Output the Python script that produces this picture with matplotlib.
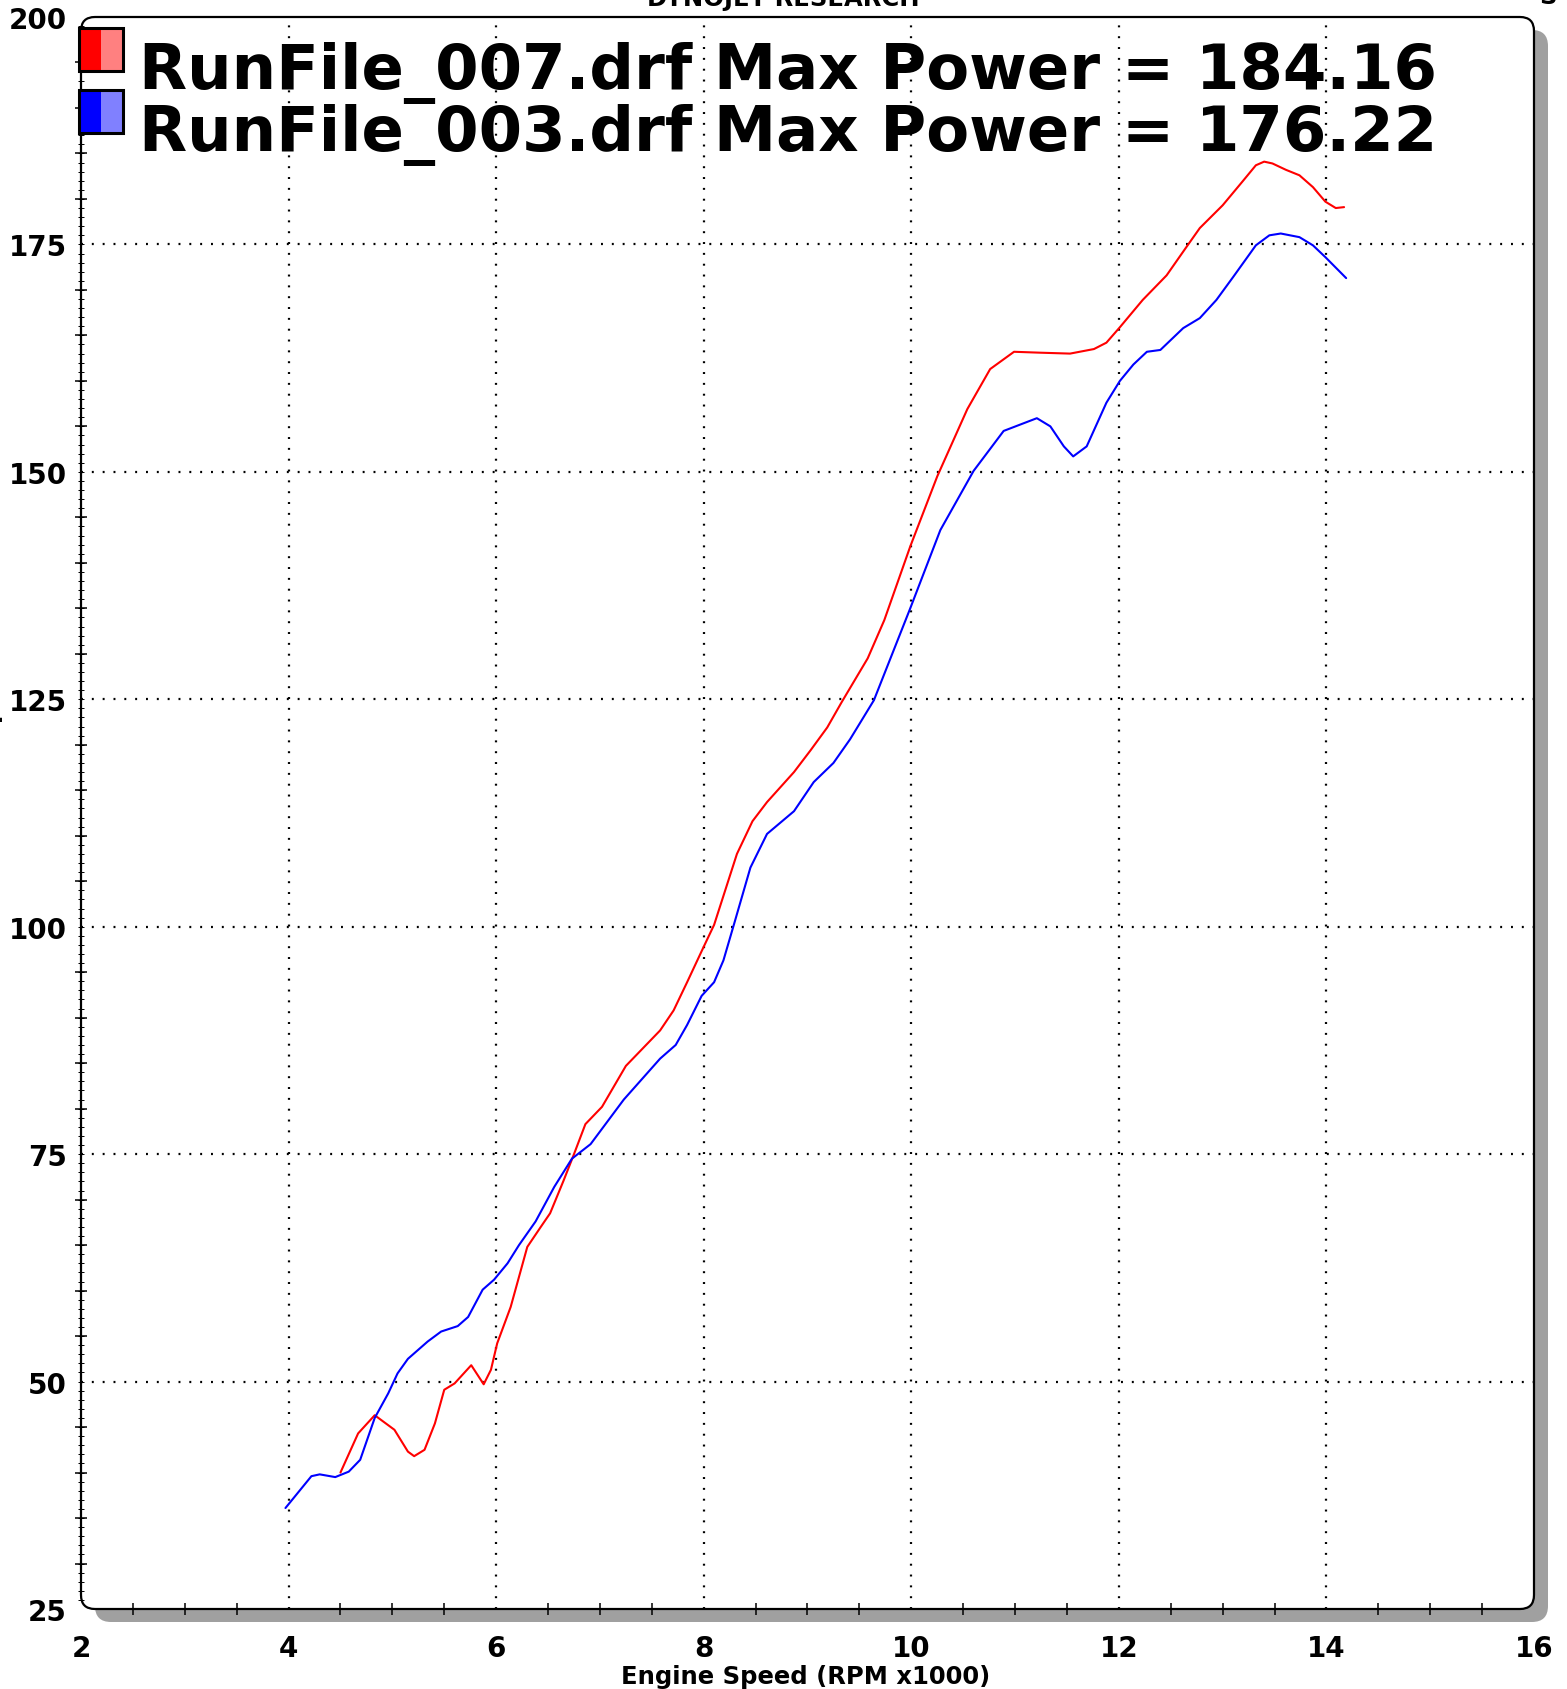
import numpy as np
import matplotlib
matplotlib.use("Agg")
from matplotlib import pyplot as plt
from matplotlib.patches import FancyBboxPatch, Rectangle
from matplotlib.transforms import IdentityTransform

# run 007 (red)
rpm_007 = [4.50, 4.67, 4.83, 5.02, 5.15, 5.21, 5.31, 5.41, 5.50, 5.60,
           5.76, 5.88, 5.95, 6.01, 6.14, 6.30, 6.43, 6.52, 6.65, 6.75,
           6.86, 7.02, 7.25, 7.58, 7.71, 7.84, 8.00, 8.10, 8.32, 8.47,
           8.61, 8.87, 9.03, 9.19, 9.33, 9.58, 9.74, 9.99, 10.25, 10.54,
           10.76, 10.99, 11.24, 11.53, 11.76, 11.88, 12.01, 12.23, 12.46, 12.65,
           12.78, 13.00, 13.19, 13.32, 13.40, 13.48, 13.61, 13.74, 13.87, 13.99,
           14.09, 14.17]
hp_007 = [40.0, 44.3, 46.3, 44.7, 42.3, 41.8, 42.5, 45.4, 49.1, 49.8,
          51.8, 49.7, 51.3, 54.2, 58.2, 64.8, 67.0, 68.5, 72.1, 75.0,
          78.3, 80.2, 84.7, 88.6, 90.8, 93.9, 97.8, 100.2, 108.0, 111.6,
          113.7, 117.0, 119.4, 121.9, 124.7, 129.5, 133.7, 141.8, 149.5, 156.9,
          161.3, 163.2, 163.1, 163.0, 163.5, 164.2, 165.9, 168.9, 171.6, 174.7,
          176.8, 179.3, 181.9, 183.7, 184.1, 183.9, 183.2, 182.6, 181.3, 179.7,
          179.0, 179.1]

# run 003 (blue)
rpm_003 = [3.97, 4.22, 4.30, 4.45, 4.58, 4.69, 4.83, 4.96, 5.05, 5.15,
           5.34, 5.47, 5.63, 5.73, 5.87, 5.98, 6.11, 6.22, 6.38, 6.56,
           6.73, 6.91, 7.23, 7.58, 7.73, 7.84, 7.98, 8.10, 8.19, 8.29,
           8.45, 8.61, 8.87, 9.06, 9.25, 9.41, 9.64, 9.99, 10.28, 10.60,
           10.89, 11.21, 11.34, 11.47, 11.56, 11.69, 11.88, 12.01, 12.14, 12.27,
           12.40, 12.62, 12.78, 12.94, 13.10, 13.32, 13.45, 13.56, 13.74, 13.87,
           13.99, 14.19]
hp_003 = [36.1, 39.6, 39.8, 39.5, 40.1, 41.4, 46.0, 48.7, 50.9, 52.5,
          54.4, 55.5, 56.1, 57.1, 60.1, 61.2, 63.0, 65.0, 67.6, 71.4,
          74.5, 76.1, 81.0, 85.5, 87.0, 89.2, 92.4, 93.9, 96.3, 100.2,
          106.5, 110.2, 112.7, 115.9, 118.0, 120.6, 124.9, 135.0, 143.6, 150.1,
          154.5, 155.9, 155.0, 152.8, 151.7, 152.8, 157.6, 160.0, 161.8, 163.2,
          163.4, 165.8, 166.9, 168.9, 171.4, 174.9, 176.0, 176.2, 175.8, 174.9,
          173.6, 171.3]

run_labels = ["RunFile_007.drf Max Power = 184.16",
              "RunFile_003.drf Max Power = 176.22"]
run_colors = [("#ff0000", "#ff8080"), ("#0000ff", "#8080ff")]

x_labels = [2, 4, 6, 8, 10, 12, 14, 16]
x_minor = np.arange(2.5, 16.0, 0.5)
x_grid = [4, 6, 8, 10, 12, 14]
y_labels = [25, 50, 75, 100, 125, 150, 175, 200]
y_minor = np.arange(30, 200, 5)
y_small = np.arange(26, 200, 1)
y_grid = [50, 75, 100, 125, 150, 175]

plt.rcParams["font.family"] = "DejaVu Sans"
plt.rcParams["font.weight"] = "bold"
plt.rcParams["lines.scale_dashes"] = False

W, H = 1567, 1690
fig = plt.figure(figsize=(W / 100, H / 100), dpi=100)

# axes box in pixels (from bottom left)
x0, y0, x1, y1 = 81, 80, 1534, 1672
ax = fig.add_axes([x0 / W, y0 / H, (x1 - x0) / W, (y1 - y0) / H])
ax.set_facecolor("none")
for side in ax.spines.values():
    side.set_visible(False)

ax.set_xlim(2, 16)
ax.set_ylim(25, 200)

# frame with rounded corners and grey drop shadow
shadow = FancyBboxPatch((x0 + 14, y0 - 13), x1 - x0, y1 - y0,
                        boxstyle="round,pad=0,rounding_size=16",
                        transform=IdentityTransform(), facecolor="#a0a0a0",
                        edgecolor="none", zorder=-2)
fill = FancyBboxPatch((x0, y0), x1 - x0, y1 - y0,
                      boxstyle="round,pad=0,rounding_size=14",
                      transform=IdentityTransform(), facecolor="white",
                      edgecolor="none", zorder=-1)
frame = FancyBboxPatch((x0, y0), x1 - x0, y1 - y0,
                       boxstyle="round,pad=0,rounding_size=14",
                       transform=IdentityTransform(), facecolor="none",
                       edgecolor="black", lw=1.6, zorder=3)
fig.add_artist(shadow)
fig.add_artist(fill)
fig.add_artist(frame)

# ticks
ax.set_xticks(x_labels)
ax.set_xticks(x_minor, minor=True)
ax.set_yticks(y_labels)
ax.set_yticks(y_minor, minor=True)
ax.tick_params(which="major", length=0, labelsize=20)
ax.tick_params(axis="x", which="major", pad=18)
ax.tick_params(axis="y", which="major", pad=10)
ax.tick_params(which="minor", length=9, width=1.1, direction="inout")

sec = ax.secondary_yaxis("left")
sec.set_yticks([])
sec.set_yticks(y_small, minor=True)
sec.tick_params(which="minor", length=4, width=0.7, direction="inout")
sec.spines["left"].set_visible(False)

# dotted grid
for v in y_grid:
    ax.axhline(v, color="black", lw=1.6, ls=(0, (1.4, 6.4)), zorder=1)
for r in x_grid:
    ax.axvline(r, color="black", lw=1.6, ls=(0, (1.4, 6.4)), zorder=1)

ax.plot(rpm_007, hp_007, color="#ff0000", lw=1.5, zorder=4,
        solid_joinstyle="round", solid_capstyle="round")
ax.plot(rpm_003, hp_003, color="#0000ff", lw=1.5, zorder=4,
        solid_joinstyle="round", solid_capstyle="round")

# legend boxes and text
box_tops = [29, 91]
baselines = [89, 151]
for (dark, light), top, base, label in zip(run_colors, box_tops, baselines, run_labels):
    yb = H - top - 43
    fig.add_artist(Rectangle((79, yb), 22, 43, transform=IdentityTransform(),
                             facecolor=dark, edgecolor="none", zorder=5))
    fig.add_artist(Rectangle((101, yb), 22, 43, transform=IdentityTransform(),
                             facecolor=light, edgecolor="none", zorder=5))
    fig.add_artist(Rectangle((79, yb), 44, 43, transform=IdentityTransform(),
                             facecolor="none", edgecolor="black", lw=2.2, zorder=6))
    fig.text(139 / W, (H - base) / H, label, fontsize=45, fontweight="bold",
             ha="left", va="baseline", zorder=6)

# header and axis titles (partly outside the canvas, as in the original)
fig.text(783 / W, (H - 6) / H, "DYNOJET RESEARCH", fontsize=17.5,
         ha="center", va="baseline")
fig.text(1548 / W, (H - 4) / H, "S", fontsize=17.5, ha="center", va="baseline")
fig.text(806 / W, 13 / H, "Engine Speed (RPM x1000)", fontsize=17.5,
         ha="center", va="center")
fig.text(3 / W, (H - 770) / H, "Power (hp)", fontsize=17.5, rotation=90,
         ha="right", va="center")

fig.savefig("out.png", dpi=100)
